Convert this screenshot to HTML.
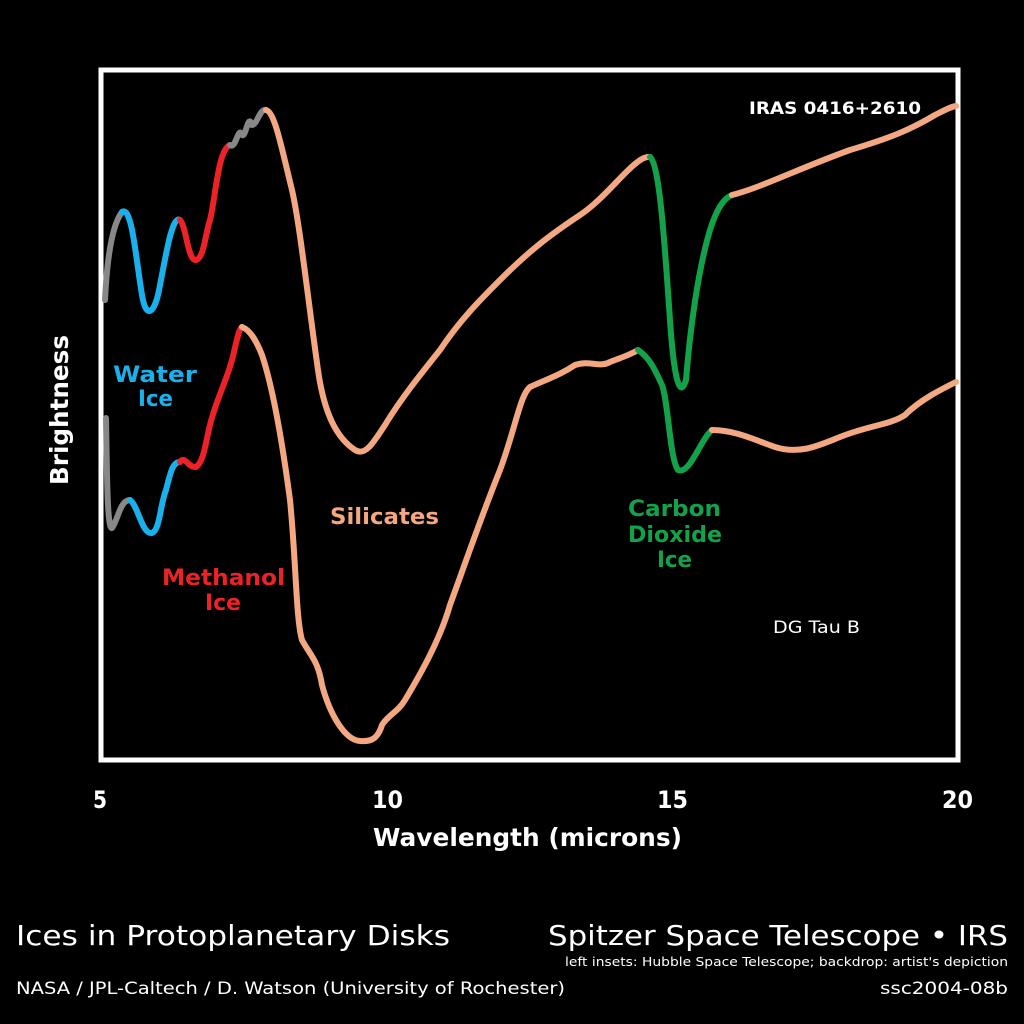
<!DOCTYPE html>
<html><head><style>
body{margin:0;background:#000;width:1024px;height:1024px;overflow:hidden;font-family:"DejaVu Sans","Liberation Sans",sans-serif}
</style></head><body>
<svg width="1024" height="1024" xmlns="http://www.w3.org/2000/svg" style="position:absolute;left:0;top:0" font-family="DejaVu Sans, Liberation Sans, sans-serif">
<rect width="1024" height="1024" fill="#000"/>
<rect x="101" y="70" width="857" height="690" fill="none" stroke="#fff" stroke-width="5"/>
<g fill="none" stroke-width="6" stroke-linecap="round" stroke-linejoin="round">
<path stroke="#888" d="M105,300 C107,260 112,225 122,212"/>
<path stroke="#1ab0ec" d="M122,212 C132,205 136,260 142,295 C146,320 155,315 160,285 C166,255 172,215 180,220"/>
<path stroke="#ec2227" d="M180,220 C186,225 188,262 196,260 C204,258 205,235 210,220 C216,195 218,150 230,145"/>
<path stroke="#888" d="M230,145 C236,150 238,125 242,135 C246,138 248,112 252,125 C257,125 260,108 266,110"/>
<path stroke="#f4a882" d="M266,110 C275,112 282,150 292,190 C300,225 308,300 318,370 C325,420 340,440 355,450 C365,456 372,445 385,425 C400,400 420,375 440,350 C460,320 480,300 500,280 C530,250 550,235 580,215 C610,195 635,155 650,157"/>
<path stroke="#13a14a" d="M650,157 C660,165 665,250 670,320 C674,380 680,400 686,380 C690,330 698,270 710,230 C718,205 725,198 732,195"/>
<path stroke="#f4a882" d="M732,195 C760,188 800,168 850,150 C890,138 910,130 935,115 C945,110 950,107 956,106"/>
<path stroke="#888" d="M106,418 C107,470 107,530 112,528 C118,520 120,500 130,500"/>
<path stroke="#1ab0ec" d="M130,500 C138,505 142,535 152,533 C160,530 160,505 166,490 C170,475 172,462 180,462"/>
<path stroke="#ec2227" d="M180,462 C185,455 188,468 196,467 C204,462 206,440 210,425 C216,400 225,385 232,360 C236,345 238,330 242,327"/>
<path stroke="#f4a882" d="M242,327 C250,330 256,340 262,355 C272,385 282,440 290,500 C296,560 296,620 302,640 C310,655 318,660 322,685 C330,715 345,740 360,741 C372,742 378,738 382,725 C388,715 398,712 405,700 C420,675 440,640 450,605 C470,550 480,520 500,470 C515,430 520,395 530,387 C550,378 560,375 575,365 C590,360 600,368 610,362 C620,358 630,355 638,350"/>
<path stroke="#13a14a" d="M638,350 C650,358 655,370 662,385 C668,400 670,460 678,470 C690,475 700,440 712,430"/>
<path stroke="#f4a882" d="M712,430 C735,430 755,440 775,447 C800,455 820,445 840,437 C870,425 890,425 905,415 C920,400 940,390 956,382"/>
</g>
<g font-weight="bold">
<text x="113" y="382" fill="#1ab0ec" font-size="22" textLength="84" lengthAdjust="spacingAndGlyphs">Water</text>
<text x="138" y="406" fill="#1ab0ec" font-size="22" textLength="35" lengthAdjust="spacingAndGlyphs">Ice</text>
<text x="162" y="585" fill="#ec2227" font-size="22" textLength="123" lengthAdjust="spacingAndGlyphs">Methanol</text>
<text x="205" y="610" fill="#ec2227" font-size="22" textLength="36" lengthAdjust="spacingAndGlyphs">Ice</text>
<text x="330" y="524" fill="#f4a882" font-size="22" textLength="109" lengthAdjust="spacingAndGlyphs">Silicates</text>
<text x="628" y="516" fill="#13a14a" font-size="22" textLength="93" lengthAdjust="spacingAndGlyphs">Carbon</text>
<text x="628" y="542" fill="#13a14a" font-size="22" textLength="94" lengthAdjust="spacingAndGlyphs">Dioxide</text>
<text x="657" y="567" fill="#13a14a" font-size="22" textLength="35" lengthAdjust="spacingAndGlyphs">Ice</text>
<text x="749" y="114" fill="#fff" font-size="17" textLength="172" lengthAdjust="spacingAndGlyphs">IRAS 0416+2610</text>
</g>
<g fill="#fff" font-weight="bold">
<text x="93" y="808" font-size="24" textLength="14" lengthAdjust="spacingAndGlyphs">5</text>
<text x="372" y="808" font-size="24" textLength="31" lengthAdjust="spacingAndGlyphs">10</text>
<text x="657" y="808" font-size="24" textLength="31" lengthAdjust="spacingAndGlyphs">15</text>
<text x="942" y="808" font-size="24" textLength="31" lengthAdjust="spacingAndGlyphs">20</text>
<text x="373" y="846" font-size="25" textLength="309" lengthAdjust="spacingAndGlyphs">Wavelength (microns)</text>
<text transform="translate(68,485) rotate(-90)" font-size="25" textLength="150" lengthAdjust="spacingAndGlyphs">Brightness</text>
</g>
<g fill="#fff" font-weight="normal">
<text x="773" y="633" font-size="17" textLength="87" lengthAdjust="spacingAndGlyphs">DG Tau B</text>
<text x="16" y="945" font-size="28" textLength="434" lengthAdjust="spacingAndGlyphs">Ices in Protoplanetary Disks</text>
<text x="16" y="994" font-size="17" textLength="549" lengthAdjust="spacingAndGlyphs">NASA / JPL-Caltech / D. Watson (University of Rochester)</text>
<text x="548" y="945" font-size="28" textLength="460" lengthAdjust="spacingAndGlyphs">Spitzer Space Telescope • IRS</text>
<text x="565" y="966" font-size="12" textLength="443" lengthAdjust="spacingAndGlyphs">left insets: Hubble Space Telescope; backdrop: artist's depiction</text>
<text x="880" y="994" font-size="17" textLength="128" lengthAdjust="spacingAndGlyphs">ssc2004-08b</text>
</g>
</svg>
</body></html>
